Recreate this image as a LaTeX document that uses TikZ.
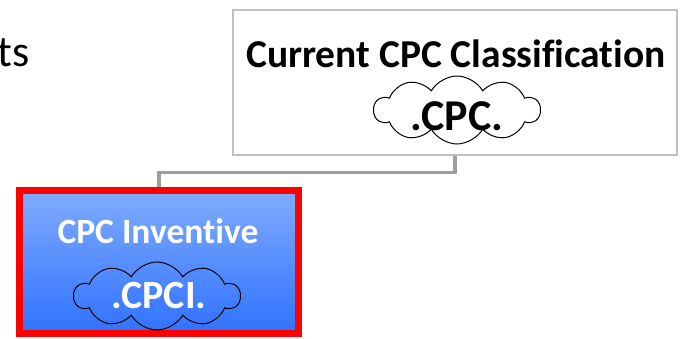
\documentclass[tikz,border=0pt]{standalone}
\usepackage{fontspec}
\setmainfont{Carlito}[Ligatures=CommonOff]
\usetikzlibrary{positioning, shapes.symbols}
\definecolor{boxgray}{RGB}{192,192,192}
\definecolor{linkgray}{RGB}{158,158,158}
\definecolor{blueTop}{RGB}{128,172,255}
\definecolor{blueBot}{RGB}{48,114,255}

\begin{document}
\begin{tikzpicture}[x=1pt, y=-1pt,
  bubble/.style={cloud, cloud puffs=10, cloud puff arc=120, cloud ignores aspect, draw=black,
    line width=1pt, minimum width=166pt, minimum height=68pt, inner sep=0pt},
  tag/.style={anchor=base, inner sep=0pt, font=\bfseries\fontsize{#1}{#1}\selectfont}]
  \useasboundingbox (0,0) rectangle (680,338);

  % Leftover heading text
	\node[anchor=base east, inner sep=0pt, font=\fontsize{44}{44}\selectfont] (ts) at (30,66) {ts};

  % Current classification
	\node[draw=boxgray, line width=2pt, fill=white, minimum width=444pt, minimum height=145pt] (cur) at (455,82) {};
	\node[tag=39.5] (curtitle) at (456,67) {Current CPC Classification};
	\node[bubble, fill=white] (curcloud) at (457,110) {};
	\node[tag=44] (curtag) at (457,130) {.CPC.};

  % Inventive classification
	\node[draw=red, line width=7pt, top color=blueTop, bottom color=blueBot, minimum width=279pt, minimum height=143pt] (inv) at (159,262) {};
	\node[tag=35.5, text=white] (invtitle) at (158,243) {CPC Inventive};
	\node[bubble] (invcloud) at (157,296) {};
	\node[tag=40, text=white] (invtag) at (159,308) {.CPCI.};

  % Link
	\draw[linkgray, line width=3.5pt] (cur.south) -- ++(0,17) -| (inv.north);
\end{tikzpicture}
\end{document}
